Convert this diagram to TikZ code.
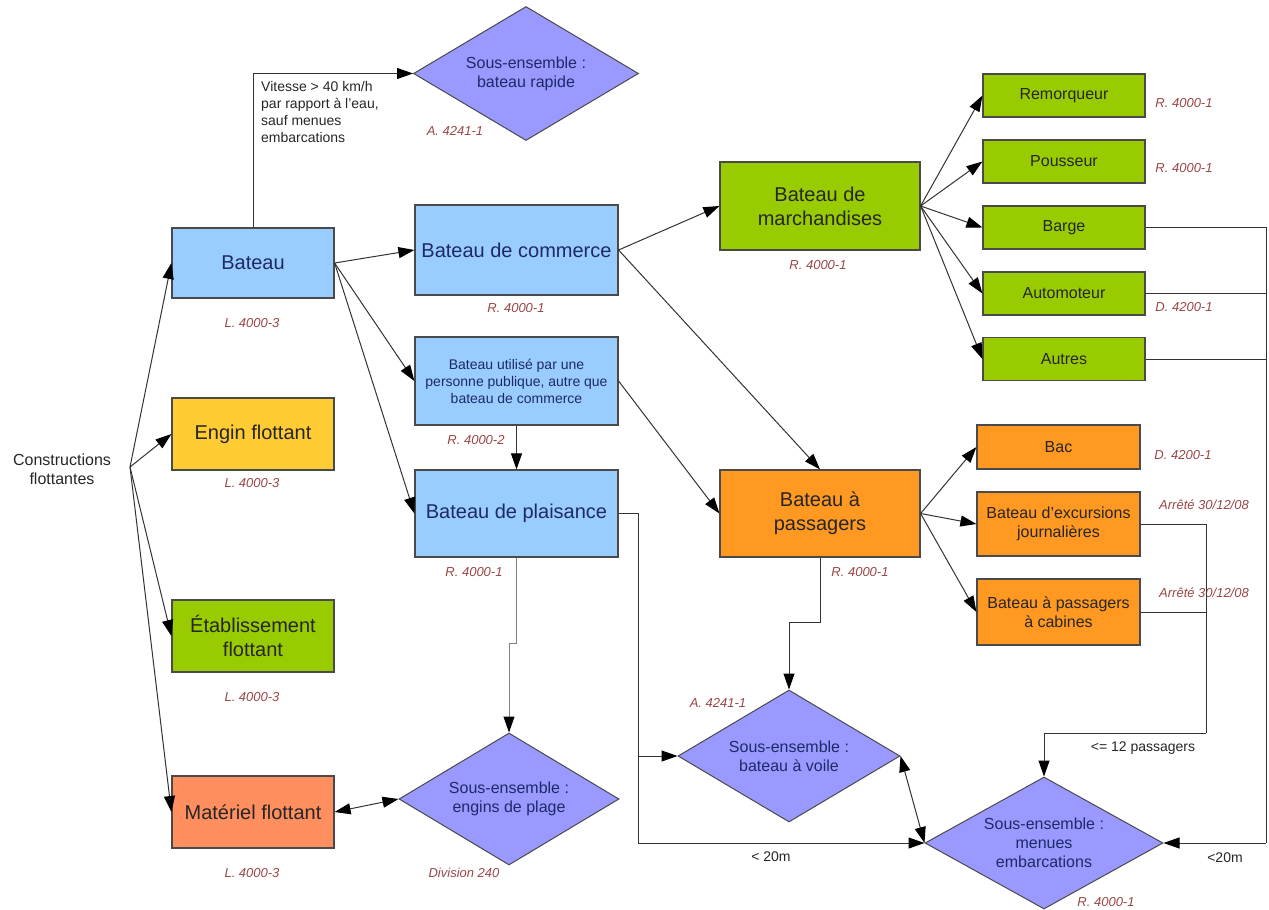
\documentclass[tikz,border=0pt]{standalone}
\usepackage{fontspec}
\setmainfont{Liberation Sans}
\usetikzlibrary{arrows.meta,shapes.geometric,calc}
\definecolor{cblue}{HTML}{99CCFF}
\definecolor{cyellow}{HTML}{FFCC33}
\definecolor{cgreen}{HTML}{99CC00}
\definecolor{corange}{HTML}{FF9922}
\definecolor{csalmon}{HTML}{FF8F5E}
\definecolor{clav}{HTML}{9999FF}
\definecolor{cborder}{HTML}{4A4A4A}
\definecolor{cline}{HTML}{333333}
\definecolor{cref}{HTML}{9B4545}
\definecolor{cnavy}{HTML}{1E2A66}
\definecolor{cdark}{HTML}{262626}
\begin{document}
\begin{tikzpicture}[x=1pt,y=-1pt,
  bx/.style n args={2}{rectangle, draw=cborder, line width=1.2pt, align=center, inner sep=2pt, minimum width=#1, minimum height=#2},
  big/.style={font=\fontsize{20}{24}\selectfont},
  mid/.style={font=\fontsize{16}{19}\selectfont},
  sml/.style={font=\fontsize{14}{17}\selectfont},
  reflab/.style={font=\fontsize{13}{15}\selectfont\itshape, text=cref, inner sep=0pt},
  dia/.style n args={2}{diamond, draw=cborder, fill=clav, line width=1pt, inner sep=0pt, align=center, text=cnavy, aspect=1.7, minimum width=#1, minimum height=#2, font=\fontsize{16}{19}\selectfont},
  conn/.style={draw=cline, line width=1pt},
  arr/.style={draw=cline, line width=1pt, -{Triangle[length=16pt,width=11pt,color=black]}},
  darr/.style={draw=cline, line width=1pt, {Triangle[length=16pt,width=11pt,color=black]}-{Triangle[length=16pt,width=11pt,color=black]}},
  lab/.style={font=\fontsize{14}{17}\selectfont, text=cdark, inner sep=0pt}
]
\useasboundingbox (0,0) rectangle (1269,910);

% source
\node[mid, text=cdark, align=center] (constr) at (62,469) {Constructions\\flottantes};
\coordinate (cf) at (130,467);

% left column
\node[bx={162}{70}, fill=cblue, big, text=cnavy] (bateau) at (253,263) {Bateau};
\node[bx={162}{72}, fill=cyellow, big, text=cdark] (engin) at (253,434) {Engin flottant};
\node[bx={162}{72}, fill=cgreen, big, text=cdark] (etab) at (253,636) {Établissement\\flottant};
\node[bx={162}{72}, fill=csalmon, big, text=cdark] (materiel) at (253,812) {Matériel flottant};

% second column
\node[bx={203}{90}, fill=cblue, big, text=cnavy] (commerce) at (516.5,250) {Bateau de commerce};
\node[bx={203}{88}, fill=cblue, sml, text=cnavy] (utilise) at (516.5,381) {Bateau utilisé par une\\personne publique, autre que\\bateau de commerce};
\node[bx={203}{87}, fill=cblue, big, text=cnavy] (plaisance) at (516.5,513.5) {Bateau de plaisance};

% third column
\node[bx={200}{88}, fill=cgreen, big, text=cdark] (march) at (820,206) {Bateau de\\marchandises};
\node[bx={200}{87}, fill=corange, big, text=cdark] (passagers) at (820,513.5) {Bateau à\\passagers};

% right column
\node[bx={162}{43}, fill=cgreen, mid, text=cdark] (remorq) at (1064,95.5) {Remorqueur};
\node[bx={162}{43}, fill=cgreen, mid, text=cdark] (pousseur) at (1064,161.5) {Pousseur};
\node[bx={162}{43}, fill=cgreen, mid, text=cdark] (barge) at (1064,227.5) {Barge};
\node[bx={162}{43}, fill=cgreen, mid, text=cdark] (automot) at (1064,293.5) {Automoteur};
\node[bx={162}{43}, fill=cgreen, mid, text=cdark] (autres) at (1064,359) {Autres};
\node[bx={163}{44}, fill=corange, mid, text=cdark] (bac) at (1058.5,447) {Bac};
\node[bx={163}{64}, fill=corange, mid, text=cdark] (excurs) at (1058.5,524) {Bateau d'excursions\\journalières};
\node[bx={163}{66}, fill=corange, mid, text=cdark] (cabines) at (1058.5,612) {Bateau à passagers\\à cabines};

% diamonds
\node[dia={225}{134}] (rapide) at (526,73.5) {Sous-ensemble :\\bateau rapide};
\node[dia={220}{132}] (plage) at (509,799) {Sous-ensemble :\\engins de plage};
\node[dia={222}{132}] (voile) at (789,756) {Sous-ensemble :\\bateau à voile};
\node[dia={238}{132}] (menues) at (1044,843) {Sous-ensemble :\\menues\\embarcations};

% reference labels
\node[reflab] (r1) at (455,131) {A. 4241-1};
\node[reflab] (r2) at (252,323) {L. 4000-3};
\node[reflab] (r3) at (252,483) {L. 4000-3};
\node[reflab] (r4) at (252,697) {L. 4000-3};
\node[reflab] (r5) at (252,873) {L. 4000-3};
\node[reflab] (r6) at (516,308) {R. 4000-1};
\node[reflab] (r7) at (818,265) {R. 4000-1};
\node[reflab] (r8) at (476,440) {R. 4000-2};
\node[reflab] (r9) at (474,572) {R. 4000-1};
\node[reflab] (r10) at (860,572) {R. 4000-1};
\node[reflab] (r11) at (1184,103) {R. 4000-1};
\node[reflab] (r12) at (1184,168) {R. 4000-1};
\node[reflab] (r13) at (1184,307) {D. 4200-1};
\node[reflab] (r14) at (1183,455) {D. 4200-1};
\node[reflab] (r15) at (1204,505) {Arrêté 30/12/08};
\node[reflab] (r16) at (1204,593) {Arrêté 30/12/08};
\node[reflab] (r17) at (464,873) {Division 240};
\node[reflab] (r18) at (718,703) {A. 4241-1};
\node[reflab] (r19) at (1106,902) {R. 4000-1};

% connectors from source
\draw[arr] (cf) -- (bateau.west);
\draw[arr] (cf) -- (engin.west);
\draw[arr] (cf) -- (etab.west);
\draw[arr] (cf) -- (materiel.west);

% Bateau
\draw[arr] (bateau.north) |- (rapide.west);
\node[lab, anchor=north west, align=left] (vit) at (261,81) {Vitesse > 40 km/h\\par rapport à l'eau,\\sauf menues\\embarcations};
\draw[arr] (bateau.east) -- (commerce.west);
\draw[arr] (bateau.east) -- (utilise.west);
\draw[arr] (bateau.east) -- (plaisance.west);

% commerce / utilise
\draw[arr] (commerce.east) -- (march.west);
\draw[arr] (commerce.east) -- (passagers.north);
\draw[arr] (utilise.east) -- (passagers.west);
\draw[arr] (utilise.south) -- (plaisance.north);

% marchandises
\draw[arr] (march.east) -- (remorq.west);
\draw[arr] (march.east) -- (pousseur.west);
\draw[arr] (march.east) -- (barge.west);
\draw[arr] (march.east) -- (automot.west);
\draw[arr] (march.east) -- (autres.west);

% passagers
\draw[arr] (passagers.east) -- (bac.west);
\draw[arr] (passagers.east) -- (excurs.west);
\draw[arr] (passagers.east) -- (cabines.west);
\draw[arr] (passagers.south) -- ++(0,65) -| (voile.north);

% plaisance
\draw[arr, draw=gray] (plaisance.south) -- ++(0,86) -| (plage.north);
\coordinate (pl1) at (638,843);
\coordinate (pl2) at (638,756);
\draw[conn] (plaisance.east) -| (pl1);
\draw[arr] (pl1) -- (menues.west);
\draw[arr] (pl2) -- (voile.west);
\node[lab] (l20a) at (771,857) {< 20m};

% right collectors
\coordinate (rb) at (1266,843);
\draw[conn] (barge.east) -| (rb);
\draw[conn] (automot.east) -- (automot.east -| rb);
\draw[conn] (autres.east) -- (autres.east -| rb);
\draw[arr] (rb) -- (menues.east);
\node[lab] (l20b) at (1225,858) {<20m};

\coordinate (re) at (1206,733);
\draw[conn] (excurs.east) -| (re);
\draw[conn] (cabines.east) -- (cabines.east -| re);
\draw[arr] (re) -| (menues.north);
\node[lab] (l12) at (1143,748) {<= 12 passagers};

% double arrows
\draw[darr] (voile.east) -- (menues.west);
\draw[darr] (materiel.east) -- (plage.west);
\end{tikzpicture}
\end{document}
